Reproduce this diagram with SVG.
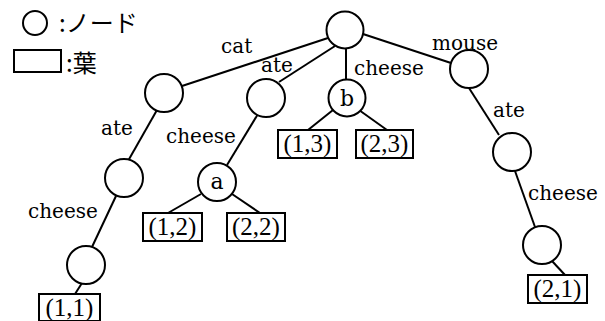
<svg xmlns="http://www.w3.org/2000/svg" width="605" height="321" viewBox="0 0 605 321">
<style>
.n{fill:#fff;stroke:#000;stroke-width:2}
.lf{fill:#fff;stroke:#000;stroke-width:2}
.e{stroke:#000;stroke-width:2;fill:none}
.l{font-family:"DejaVu Serif",serif;font-size:20px;fill:#000}
.t{font-family:"DejaVu Serif",serif;font-size:22px;fill:#000;text-anchor:middle}
.b{font-family:"Liberation Serif",serif;font-size:25px;fill:#000;text-anchor:middle}
.j{font-family:"Noto Sans CJK JP",sans-serif;font-size:24px;fill:#000}
</style>
<rect width="605" height="321" fill="#fff"/>
<g id="legend">
<circle class="n" cx="35" cy="23" r="12"/>
<text class="j" x="59" y="32">:ノード</text>
<rect class="lf" x="14" y="50" width="47" height="22"/>
<text class="j" x="66" y="72">:葉</text>
</g>
<g id="edges">
<line class="e" x1="328" y1="38" x2="182" y2="86"/>
<line class="e" x1="335" y1="46" x2="279" y2="82"/>
<line class="e" x1="346" y1="48" x2="346" y2="80"/>
<line class="e" x1="363" y1="34" x2="451" y2="63"/>
<line class="e" x1="157" y1="110" x2="128" y2="161"/>
<line class="e" x1="116" y1="196" x2="92" y2="247"/>
<line class="e" x1="82" y1="283" x2="75" y2="294"/>
<line class="e" x1="258" y1="114" x2="227" y2="165"/>
<line class="e" x1="201" y1="194" x2="168" y2="213"/>
<line class="e" x1="232" y1="194" x2="260" y2="213"/>
<line class="e" x1="333" y1="110" x2="308" y2="130"/>
<line class="e" x1="359" y1="110" x2="387" y2="130"/>
<line class="e" x1="469" y1="88" x2="499" y2="135"/>
<line class="e" x1="515" y1="171" x2="535" y2="227"/>
<line class="e" x1="552" y1="261" x2="565" y2="275"/>
</g>
<g id="labels">
<text class="l" x="221" y="53">cat</text>
<text class="l" x="261" y="72">ate</text>
<text class="l" x="354" y="75">cheese</text>
<text class="l" x="432" y="50">mouse</text>
<text class="l" x="101" y="135">ate</text>
<text class="l" x="166" y="143">cheese</text>
<text class="l" x="28" y="218">cheese</text>
<text class="l" x="493" y="117">ate</text>
<text class="l" x="528" y="200">cheese</text>
</g>
<g id="root"><circle class="n" cx="345" cy="30" r="18.5"/></g>
<g id="n_cat"><circle class="n" cx="164" cy="93" r="19"/></g>
<g id="n_ate"><circle class="n" cx="266" cy="98" r="19"/></g>
<g id="n_b"><circle class="n" cx="347" cy="98" r="18.5"/><text class="t" x="347" y="106">b</text></g>
<g id="n_mouse"><circle class="n" cx="469" cy="69" r="19"/></g>
<g id="n_cat_ate"><circle class="n" cx="124" cy="178" r="19"/></g>
<g id="n_cat_ate_cheese"><circle class="n" cx="86" cy="265" r="19"/></g>
<g id="n_a"><circle class="n" cx="217" cy="182" r="19"/><text class="t" x="217" y="189">a</text></g>
<g id="n_mouse_ate"><circle class="n" cx="512" cy="152" r="19"/></g>
<g id="n_mouse_ate_cheese"><circle class="n" cx="542" cy="245" r="19"/></g>
<g id="leaf11"><rect class="lf" x="39" y="294" width="61" height="27"/><text class="b" x="69.5" y="316">(1,1)</text></g>
<g id="leaf12"><rect class="lf" x="143" y="213" width="59" height="28"/><text class="b" x="172.5" y="235">(1,2)</text></g>
<g id="leaf22"><rect class="lf" x="227" y="213" width="58" height="28"/><text class="b" x="256" y="235">(2,2)</text></g>
<g id="leaf13"><rect class="lf" x="278" y="130" width="59" height="28"/><text class="b" x="307.5" y="152">(1,3)</text></g>
<g id="leaf23"><rect class="lf" x="356" y="130" width="57" height="28"/><text class="b" x="384.5" y="152">(2,3)</text></g>
<g id="leaf21"><rect class="lf" x="528" y="275" width="59" height="28"/><text class="b" x="557.5" y="297">(2,1)</text></g>
</svg>
